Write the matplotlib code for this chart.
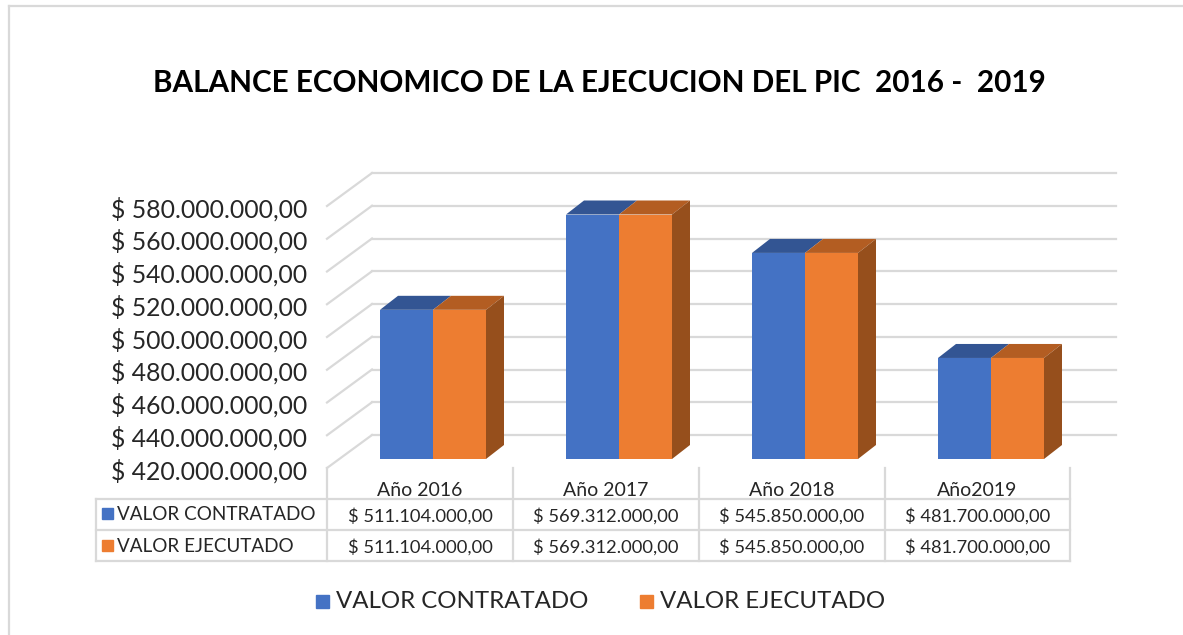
import matplotlib
matplotlib.use('Agg')
import matplotlib.pyplot as plt
from matplotlib.patches import Polygon, Rectangle
from matplotlib.transforms import Affine2D

plt.rcParams['font.family'] = ['Lato', 'DejaVu Sans']

title = "BALANCE ECONOMICO DE LA EJECUCION DEL PIC  2016 -  2019"
categories = ["Año 2016", "Año 2017", "Año 2018", "Año2019"]
contratado = [511104000, 569312000, 545850000, 481700000]
ejecutado = [511104000, 569312000, 545850000, 481700000]
series_names = ["VALOR CONTRATADO", "VALOR EJECUTADO"]
y_ticks = [420000000, 440000000, 460000000, 480000000, 500000000,
           520000000, 540000000, 560000000, 580000000]

W, H = 1183, 635
GRID = '#d9d9d9'
TEXT = '#262626'


# formato colombiano: $ 511.104.000,00
def money(v):
    return "$ " + f"{v:,.2f}".replace(",", "#").replace(".", ",").replace("#", ".")


fig = plt.figure(figsize=(W / 100, H / 100), dpi=100)

# capa en pixeles para marco, tabla y leyenda
bg = fig.add_axes([0, 0, 1, 1])
bg.set_xlim(0, W)
bg.set_ylim(H, 0)
bg.axis('off')

# plano frontal de las barras
ax = fig.add_axes([340 / W, 1 - 459 / H, 744 / W, 262 / H])
ax.set_xlim(-0.5, 3.5)
ax.set_ylim(420000000, 580000000)
ax.axis('off')


# desplazamiento en pixeles sobre coordenadas de datos
def shifted(dx, dy):
    return ax.transData + Affine2D().translate(dx, dy)


# marco del grafico
bg.plot([9, 9], [H, 6], color=GRID, lw=1.6)
bg.plot([9, W], [6, 6], color=GRID, lw=1.6)

# lineas de la cuadricula: pared izquierda y pared del fondo
for v in y_ticks:
    ax.plot([-0.5 - 13 / 186, -0.5 + 32 / 186], [v - 9 * 160e6 / 262, v + 24 * 160e6 / 262],
            color=GRID, lw=1.6, clip_on=False, zorder=1)
    ax.plot([-0.5, 3.5], [v, v], color=GRID, lw=1.6, clip_on=False, zorder=1,
            transform=shifted(32, 24))
    bg.text(307, 459 + 12 - (v - 420000000) * 262 / 160e6, money(v), ha='right', va='center',
            fontsize=17.8, color=TEXT)

# barras
bar_w = 53 / 186
dx = 18 / 186
dy = 14 * 160e6 / 262
for i in range(len(categories)):
    for k, (val, front, top) in enumerate([(contratado[i], '#4472C4', '#335593'),
                                            (ejecutado[i], '#ED7D31', '#B35D22')]):
        left = i - bar_w + k * bar_w
        ax.bar(left, val - 420000000, bar_w, bottom=420000000, align='edge',
               color=front, clip_on=False, zorder=3)
        ax.add_patch(Polygon([(left, val), (left + bar_w, val),
                              (left + bar_w + dx, val + dy), (left + dx, val + dy)],
                             closed=True, facecolor=top, edgecolor='none', clip_on=False, zorder=3))
    right = i + bar_w
    ax.add_patch(Polygon([(right, 420000000), (right + dx, 420000000 + dy),
                          (right + dx, ejecutado[i] + dy), (right, ejecutado[i])],
                         closed=True, facecolor='#964F1C', edgecolor='none', clip_on=False, zorder=3))

# tabla de datos
col_x = [327, 513, 699, 885, 1070]
row_y = [499, 530, 561]
for x in col_x:
    bg.plot([x, x], [468, 561], color=GRID, lw=1.6)
bg.plot([96, 96], [499, 561], color=GRID, lw=1.6)
for y in row_y:
    bg.plot([96, 1070], [y, y], color=GRID, lw=1.6)
for i, c in enumerate(categories):
    cx = (col_x[i] + col_x[i + 1]) / 2
    bg.text(cx, 490, c, ha='center', va='center', fontsize=14, color=TEXT)
    bg.text(cx, 516, money(contratado[i]), ha='center', va='center', fontsize=13.2, color=TEXT)
    bg.text(cx, 547, money(ejecutado[i]), ha='center', va='center', fontsize=13.2, color=TEXT)
for y, name, c in zip([513, 545], series_names, ['#4472C4', '#ED7D31']):
    bg.add_patch(Rectangle((102, y - 5.5), 11, 11, color=c))
    bg.text(117, y + 1, name, ha='left', va='center', fontsize=13.6, color=TEXT)

# leyenda inferior
for x, name, c in zip([316, 640], series_names, ['#4472C4', '#ED7D31']):
    bg.add_patch(Rectangle((x, 595), 13, 13, color=c))
    bg.text(x + 20, 602, name, ha='left', va='center', fontsize=17.3, color=TEXT)

bg.text(599, 83, title, ha='center', va='center', fontsize=21.3, fontweight='bold', color='black')

fig.savefig('out.png', dpi=100)
plt.close(fig)
